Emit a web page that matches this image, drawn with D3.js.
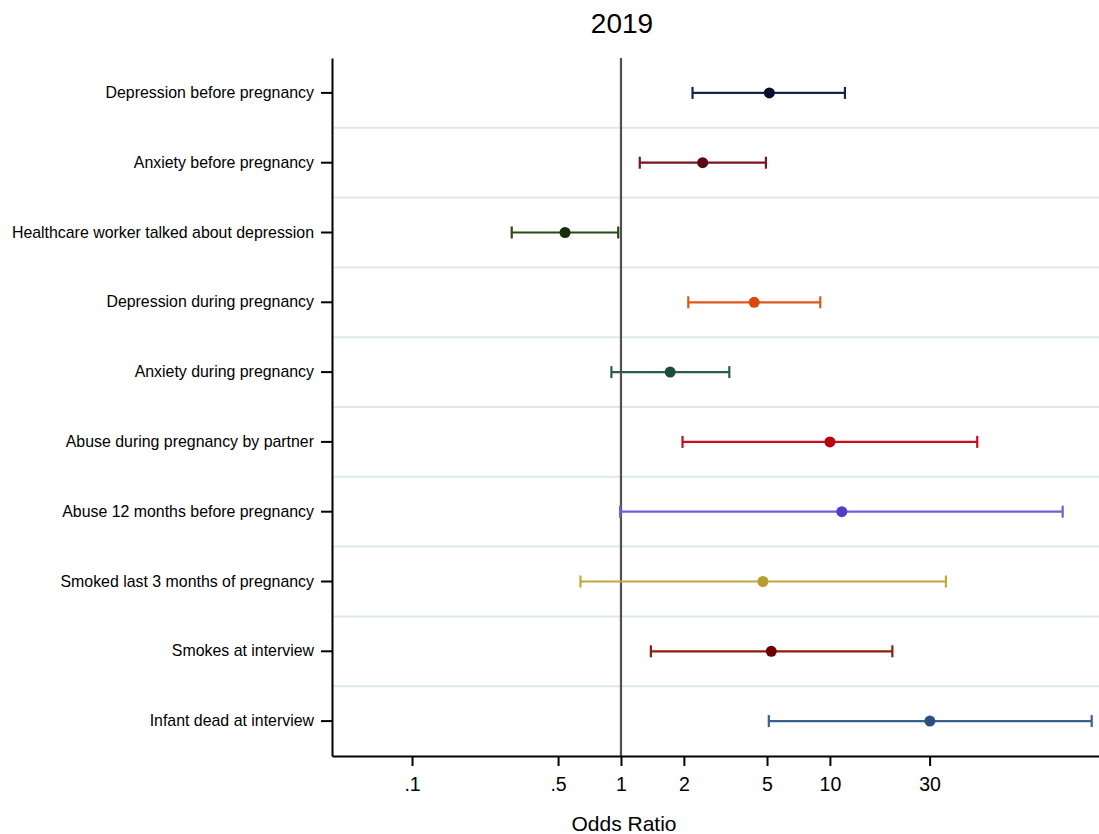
<!DOCTYPE html>
<html>
<head>
<meta charset="utf-8">
<script src="https://cdn.jsdelivr.net/npm/d3@7"></script>
<style>
  body { margin: 0; background: #fff; }
  svg { font-family: "Liberation Sans", Arial, sans-serif; }
</style>
</head>
<body>
<div id="chart"></div>
<script>
var labels = [
    "Depression before pregnancy",
    "Anxiety before pregnancy",
    "Healthcare worker talked about depression",
    "Depression during pregnancy",
    "Anxiety during pregnancy",
    "Abuse during pregnancy by partner",
    "Abuse 12 months before pregnancy",
    "Smoked last 3 months of pregnancy",
    "Smokes at interview",
    "Infant dead at interview"
];
var oddsRatio = [5.13, 2.46, 0.54, 4.34, 1.72, 10.0, 11.4, 4.78, 5.24, 30.1];
var lowerCI   = [2.20, 1.23, 0.30, 2.10, 0.90, 1.97, 0.99, 0.64, 1.39, 5.10];
var upperCI   = [11.8, 4.94, 0.97, 8.99, 3.30, 50.7, 130, 35.9, 19.9, 179];
var lineColors = ["#1b2150", "#7a1420", "#2a4a14", "#e0561a", "#2a5e4a",
                  "#c4101f", "#6f60d6", "#bfa83f", "#8e1c0c", "#3a6090"];
var dotColors  = ["#0b0d2e", "#5a0610", "#16300a", "#d9480c", "#1c4c3a",
                  "#b8000f", "#5040c8", "#b59d30", "#6a0000", "#2a5080"];
var tickValues = [0.1, 0.5, 1, 2, 5, 10, 30];
var tickLabels = [".1", ".5", "1", "2", "5", "10", "30"];

var W = 1099, H = 834;
var margin = { top: 58, right: 0, bottom: 78, left: 332 };

var svg = d3.select("#chart").append("svg")
    .attr("width", W)
    .attr("height", H);

var x = d3.scaleLog()
    .domain([0.0414, 194])
    .range([margin.left, W - margin.right]);

var y = d3.scaleBand()
    .domain(labels)
    .range([margin.top, H - margin.bottom]);

var yc = function(d) { return y(d) + y.bandwidth() / 2; };

// gridlines between rows
svg.append("g").selectAll("line")
    .data(labels.slice(1))
    .enter().append("line")
    .attr("x1", margin.left)
    .attr("x2", W - margin.right)
    .attr("y1", function(d) { return y(d); })
    .attr("y2", function(d) { return y(d); })
    .style("stroke", "#dde9ee")
    .style("stroke-width", 2);

// reference line at 1
svg.append("line")
    .attr("x1", x(1)).attr("x2", x(1))
    .attr("y1", margin.top).attr("y2", H - margin.bottom)
    .style("stroke", "#505050")
    .style("stroke-width", 2.2);

// X axis
var xAxis = svg.append("g")
    .attr("transform", "translate(0," + (H - margin.bottom) + ")")
    .call(d3.axisBottom(x)
        .tickValues(tickValues)
        .tickFormat(function(d, i) { return tickLabels[i]; })
        .tickSize(10)
        .tickSizeOuter(0)
        .tickPadding(11));
xAxis.select(".domain").style("stroke", "#000").style("stroke-width", 2);
xAxis.selectAll(".tick line").style("stroke", "#000").style("stroke-width", 2);
xAxis.selectAll("text").style("font-size", "19.5px").style("fill", "#000");

// Y axis
var yAxis = svg.append("g")
    .attr("transform", "translate(" + margin.left + ",0)")
    .call(d3.axisLeft(y).tickSize(11).tickSizeOuter(0).tickPadding(7));
yAxis.select(".domain").style("stroke", "#000").style("stroke-width", 2);
yAxis.selectAll(".tick line").style("stroke", "#000").style("stroke-width", 2);
yAxis.selectAll("text").style("font-size", "15.9px").style("fill", "#000");

// CI lines
var rows = svg.append("g").selectAll("g")
    .data(labels)
    .enter().append("g");

rows.append("line")
    .attr("x1", function(d, i) { return x(lowerCI[i]); })
    .attr("x2", function(d, i) { return x(upperCI[i]); })
    .attr("y1", yc).attr("y2", yc)
    .style("stroke", function(d, i) { return lineColors[i]; })
    .style("stroke-width", 2.2);

// caps
[lowerCI, upperCI].forEach(function(arr) {
    rows.append("line")
        .attr("x1", function(d, i) { return x(arr[i]); })
        .attr("x2", function(d, i) { return x(arr[i]); })
        .attr("y1", function(d) { return yc(d) - 6; })
        .attr("y2", function(d) { return yc(d) + 6; })
        .style("stroke", function(d, i) { return lineColors[i]; })
        .style("stroke-width", 2.2);
});

// points
rows.append("circle")
    .attr("cx", function(d, i) { return x(oddsRatio[i]); })
    .attr("cy", yc)
    .attr("r", 5.5)
    .style("fill", function(d, i) { return dotColors[i]; });

// title
svg.append("text")
    .attr("x", x(1) + 1)
    .attr("y", 33)
    .attr("text-anchor", "middle")
    .style("font-size", "28px")
    .text("2019");

// x axis title
svg.append("text")
    .attr("x", x(1) + 3)
    .attr("y", 831)
    .attr("text-anchor", "middle")
    .style("font-size", "21px")
    .text("Odds Ratio");
</script>
</body>
</html>
